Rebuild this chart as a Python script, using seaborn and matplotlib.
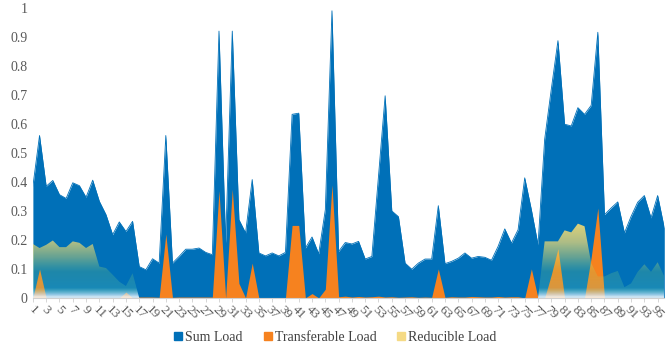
import numpy as np
import pandas as pd
import matplotlib
matplotlib.use("Agg")
import matplotlib.pyplot as plt
import seaborn as sns
from matplotlib.patches import Polygon
from matplotlib.lines import Line2D

sns.set_theme(style="white")
plt.rcParams['font.family'] = ['Liberation Serif', 'DejaVu Serif']

# 96 time periods
periods = list(range(1, 97))

sum_load = [
    0.385, 0.56, 0.385, 0.405, 0.356, 0.343, 0.397, 0.387, 0.347, 0.406,
    0.333, 0.287, 0.218, 0.262, 0.229, 0.264, 0.108, 0.097, 0.135, 0.12,
    0.56, 0.12, 0.143, 0.168, 0.168, 0.172, 0.157, 0.149, 0.92, 0.19,
    0.92, 0.27, 0.224, 0.408, 0.155, 0.145, 0.155, 0.145, 0.157, 0.633,
    0.637, 0.172, 0.21, 0.152, 0.304, 0.99, 0.16, 0.191, 0.186, 0.195,
    0.134, 0.143, 0.42, 0.697, 0.30, 0.28, 0.12, 0.099, 0.12, 0.134,
    0.134, 0.318, 0.118, 0.126, 0.137, 0.155, 0.137, 0.143, 0.14, 0.13,
    0.178, 0.238, 0.189, 0.235, 0.414, 0.304, 0.183, 0.547, 0.72, 0.887,
    0.599, 0.593, 0.656, 0.633, 0.664, 0.916, 0.287, 0.31, 0.331, 0.224,
    0.281, 0.33, 0.353, 0.276, 0.353, 0.241,
]

transferable_load = [
    0, 0.1, 0, 0, 0, 0, 0, 0, 0, 0,
    0, 0, 0, 0, 0.02, 0, 0.003, 0.003, 0.003, 0.002,
    0.22, 0.002, 0.003, 0.003, 0.003, 0.003, 0.003, 0.003, 0.37, 0,
    0.375, 0.05, 0, 0.12, 0, 0, 0, 0, 0, 0.25,
    0.25, 0, 0.015, 0, 0.03, 0.39, 0.004, 0.006, 0.003, 0.005,
    0.003, 0.004, 0.006, 0.003, 0.004, 0.002, 0.003, 0.004, 0.002, 0.003,
    0.002, 0.1, 0.002, 0.004, 0.003, 0.003, 0.005, 0.004, 0.003, 0.003,
    0.005, 0.003, 0.004, 0.004, 0, 0.1, 0, 0, 0.08, 0.17,
    0, 0, 0, 0, 0.14, 0.31, 0, 0, 0, 0,
    0, 0, 0, 0, 0, 0,
]

reducible_load = [
    0.186, 0.172, 0.183, 0.198, 0.175, 0.175, 0.195, 0.19, 0.172, 0.186,
    0.108, 0.103, 0.08, 0.056, 0.041, 0.085, 0, 0, 0, 0,
    0, 0, 0, 0, 0, 0, 0, 0, 0, 0,
    0, 0, 0, 0, 0, 0, 0, 0, 0, 0,
    0, 0, 0, 0, 0, 0, 0, 0, 0, 0,
    0, 0, 0, 0, 0, 0, 0, 0, 0, 0,
    0, 0, 0, 0, 0, 0, 0, 0, 0, 0,
    0, 0, 0, 0, 0, 0, 0, 0.195, 0.195, 0.195,
    0.233, 0.226, 0.256, 0.247, 0.12, 0.074, 0.074, 0.085, 0.093, 0.037,
    0.05, 0.09, 0.116, 0.09, 0.123, 0.074,
]

BLUE = '#0070b8'
ORANGE = '#f6821f'
YELLOW = '#f5da85'
GREY = '#595959'

df = pd.DataFrame({
    'period': periods,
    'sum': sum_load,
    'transferable': transferable_load,
    'reducible': reducible_load,
})

fig = plt.figure(figsize=(6.71, 3.44), dpi=100)
ax = fig.add_axes([0.049, 0.134, 0.941, 0.843])

# Sum load (back)
ax.fill_between(df['period'], 0, df['sum'], color=BLUE, linewidth=0, zorder=1)
sns.lineplot(data=df, x='period', y='sum', color=BLUE, linewidth=0.6, ax=ax, zorder=1)

# Transferable load
ax.fill_between(df['period'], 0, df['transferable'], color=ORANGE, linewidth=0, zorder=2)

# Reducible load - gradient fill (yellow at top, see-through teal in the middle, white at bottom)
rmax = max(reducible_load)
stops = [
    (0.000, (1.00, 1.00, 1.00), 0.95),
    (0.012, (0.80, 0.92, 0.97), 0.70),
    (0.035, (0.45, 0.88, 0.70), 0.22),
    (0.090, (0.60, 0.90, 0.45), 0.20),
    (0.140, (0.90, 0.88, 0.40), 0.45),
    (0.190, (0.95, 0.86, 0.45), 0.72),
    (rmax, (0.98, 0.87, 0.45), 0.90),
]
ys = np.linspace(0, rmax, 300)
sy = [s[0] for s in stops]
grad = np.zeros((len(ys), 1, 4))
for c in range(3):
    grad[:, 0, c] = np.interp(ys, sy, [s[1][c] for s in stops])
grad[:, 0, 3] = np.interp(ys, sy, [s[2] for s in stops])

verts = [(periods[0], 0)] + list(zip(periods, reducible_load)) + [(periods[-1], 0)]
clip = Polygon(verts, closed=True, facecolor='none', edgecolor='none', transform=ax.transData)
ax.add_patch(clip)
im = ax.imshow(grad, extent=[periods[0], periods[-1], 0, rmax], origin='lower',
               aspect='auto', interpolation='bilinear', zorder=3)
im.set_clip_path(clip)

ax.set_xlim(1, 96)
ax.set_ylim(0, 1)
ax.set_yticks(np.round(np.arange(0, 1.01, 0.1), 1))
ax.set_yticklabels(['0', '0.1', '0.2', '0.3', '0.4', '0.5', '0.6', '0.7', '0.8', '0.9', '1'])
ax.set_xticks(periods[::2])
ax.set_xticklabels([str(p) for p in periods[::2]], rotation=-45, ha='center')
ax.tick_params(axis='y', length=0, pad=4, labelsize=10, labelcolor=GREY)
ax.tick_params(axis='x', length=3, width=0.6, color='#d0d0d0', pad=1, labelsize=9.5,
               labelcolor=GREY, bottom=True)
ax.set_xlabel('')
ax.set_ylabel('')
for side in ['top', 'right', 'left']:
    ax.spines[side].set_visible(False)
ax.spines['bottom'].set_color('#d0d0d0')
ax.spines['bottom'].set_linewidth(0.8)
ax.spines['bottom'].set_zorder(5)
ax.grid(False)

handles = [
    Line2D([], [], marker='s', linestyle='', markersize=6, color=BLUE),
    Line2D([], [], marker='s', linestyle='', markersize=6, color=ORANGE),
    Line2D([], [], marker='s', linestyle='', markersize=6, color=YELLOW),
]
fig.legend(handles, ['Sum Load', 'Transferable Load', 'Reducible Load'],
           loc='lower center', bbox_to_anchor=(0.5, -0.035), ncol=3, frameon=False,
           handlelength=0.6, handletextpad=0.2, columnspacing=1.5,
           prop={'size': 10}, labelcolor='#404040')

fig.savefig('out.png', dpi=100)
